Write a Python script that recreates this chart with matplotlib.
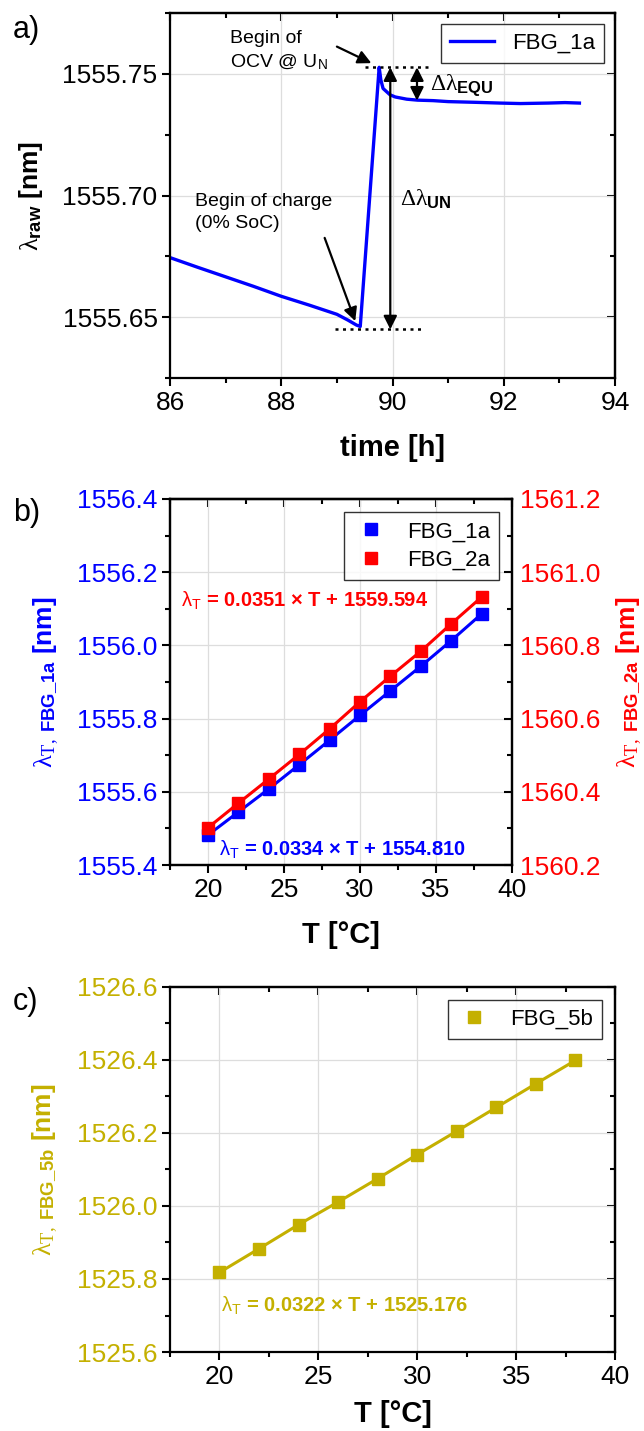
import matplotlib
matplotlib.use('Agg')
import matplotlib.pyplot as plt
from matplotlib.lines import Line2D
from matplotlib.ticker import MultipleLocator, FormatStrFormatter

plt.rcParams['font.family'] = ['Liberation Sans', 'DejaVu Sans']
plt.rcParams['mathtext.fontset'] = 'custom'
plt.rcParams['mathtext.rm'] = 'Liberation Serif'
plt.rcParams['mathtext.it'] = 'Liberation Serif'
plt.rcParams['mathtext.bf'] = 'Liberation Sans:bold'
plt.rcParams['mathtext.sf'] = 'Liberation Sans'
plt.rcParams['axes.linewidth'] = 1.6

# a) raw wavelength of FBG_1a around the charge step
time_h = [86.0, 86.5, 87.0, 87.5, 88.0, 88.5, 89.0, 89.2, 89.35, 89.42,
          89.76, 89.79, 89.83, 89.955, 90.05, 90.255, 90.45, 90.73, 91.0, 91.5,
          91.93, 92.3, 92.8, 93.1, 93.36]
lam_raw = [1555.6745, 1555.6705, 1555.6666, 1555.6627, 1555.6586, 1555.6550,
           1555.6512, 1555.6488, 1555.6468, 1555.6462,
           1555.7527, 1555.7475, 1555.7440, 1555.7414, 1555.7405, 1555.7396,
           1555.7392, 1555.7390, 1555.7386, 1555.7383,
           1555.7380, 1555.7378, 1555.7380, 1555.7382, 1555.7380]

# b) and c) temperature calibration
temp_c = [20, 22, 24, 26, 28, 30, 32, 34, 36, 38]
lam_1a = [1555.482, 1555.545, 1555.608, 1555.674, 1555.741, 1555.809,
          1555.876, 1555.943, 1556.013, 1556.086]
lam_2a = [1560.302, 1560.369, 1560.435, 1560.502, 1560.572, 1560.646,
          1560.716, 1560.784, 1560.859, 1560.932]
lam_5b = [1525.818, 1525.883, 1525.949, 1526.011, 1526.075, 1526.141,
          1526.205, 1526.270, 1526.335, 1526.399]

BLUE = '#0000FF'
RED = '#FF0000'
GOLD = '#C4B000'
TICK_FS = 19
LABEL_FS = 21
YLABEL_FS = 19
LEG_FS = 16


def style_axis(ax, xmaj, xmin, ymaj, ymin, yfmt, ycolor='black', right=True):
    ax.xaxis.set_major_locator(MultipleLocator(xmaj))
    ax.xaxis.set_minor_locator(MultipleLocator(xmin))
    ax.yaxis.set_major_locator(MultipleLocator(ymaj))
    ax.yaxis.set_minor_locator(MultipleLocator(ymin))
    ax.yaxis.set_major_formatter(FormatStrFormatter(yfmt))
    ax.tick_params(which='major', direction='out', length=6, width=1.5,
                   labelsize=TICK_FS, pad=3)
    ax.tick_params(which='minor', direction='out', length=3.5, width=1.5)
    ax.tick_params(axis='y', labelcolor=ycolor)
    ax.grid(True, which='major', color='#dddddd', linewidth=0.9)
    ax.set_axisbelow(True)
    # inward ticks on the top (and right) frame
    top = ax.secondary_xaxis('top')
    top.xaxis.set_major_locator(MultipleLocator(xmaj))
    top.xaxis.set_minor_locator(MultipleLocator(xmin))
    top.tick_params(which='major', direction='in', length=6, width=1.5, labeltop=False)
    top.tick_params(which='minor', direction='in', length=3.5, width=1.5)
    top.spines['top'].set_linewidth(1.6)
    if right:
        rt = ax.secondary_yaxis('right')
        rt.yaxis.set_major_locator(MultipleLocator(ymaj))
        rt.yaxis.set_minor_locator(MultipleLocator(ymin))
        rt.tick_params(which='major', direction='in', length=6, width=1.5, labelright=False)
        rt.tick_params(which='minor', direction='in', length=3.5, width=1.5)
        rt.spines['right'].set_linewidth(1.6)


def square_legend(ax, colors, labels):
    hs = [Line2D([], [], ls='none', marker='s', ms=9, color=c) for c in colors]
    leg = ax.legend(hs, labels, loc='upper right', fontsize=LEG_FS, frameon=True,
                    fancybox=False, edgecolor='black', handlelength=1.6,
                    borderaxespad=0.6, labelspacing=0.35)
    leg.get_frame().set_linewidth(1.0)


fig = plt.figure(figsize=(6.44, 14.31), dpi=100)
ax_a = fig.add_axes([0.264, 0.7358, 0.691, 0.2551])
ax_b = fig.add_axes([0.264, 0.3955, 0.531, 0.2558])
ax_c = fig.add_axes([0.264, 0.0552, 0.691, 0.2551])

# ---- panel a ----
ax_a.plot(time_h, lam_raw, color=BLUE, lw=2.4, label='FBG_1a')
ax_a.set_xlim(86, 94)
ax_a.set_ylim(1555.625, 1555.775)
style_axis(ax_a, 2, 1, 0.05, 0.025, '%.2f')
ax_a.set_xlabel('time [h]', fontsize=LABEL_FS, fontweight='bold', labelpad=14)
ax_a.set_ylabel(r'$\lambda_{\mathbf{raw}}$ [nm]', fontsize=YLABEL_FS, fontweight='bold')
ax_a.yaxis.set_label_coords(-0.28, 0.5)
leg_a = ax_a.legend(loc='upper right', fontsize=LEG_FS, frameon=True, fancybox=False,
                    edgecolor='black', handlelength=2.0, borderaxespad=0.5)
leg_a.get_frame().set_linewidth(1.0)

ax_a.hlines(1555.7527, 89.50, 90.64, colors='black', linestyles=(0, (1.2, 1.8)), lw=1.8)
ax_a.hlines(1555.6450, 88.96, 90.53, colors='black', linestyles=(0, (1.2, 1.8)), lw=1.8)
arr = dict(arrowstyle='<|-|>', color='black', lw=1.6, mutation_scale=20, shrinkA=0, shrinkB=0)
ax_a.annotate('', xy=(89.96, 1555.7527), xytext=(89.96, 1555.6450), arrowprops=arr)
ax_a.annotate('', xy=(90.44, 1555.7527), xytext=(90.44, 1555.7390), arrowprops=arr)
ax_a.text(90.67, 1555.7455, r'$\Delta\lambda_{\mathbf{EQU}}$', fontsize=17, va='center')
ax_a.text(90.13, 1555.6985, r'$\Delta\lambda_{\mathbf{UN}}$', fontsize=17, va='center')
one = dict(arrowstyle='-|>', color='black', lw=1.6, mutation_scale=20, shrinkA=0, shrinkB=0)
ax_a.text(87.08, 1555.7595, 'Begin of\nOCV @ U$_\\mathsf{N}$', fontsize=14,
          va='center', ha='left', linespacing=1.35)
ax_a.annotate('', xy=(89.62, 1555.7544), xytext=(89.0, 1555.7612), arrowprops=one)
ax_a.text(86.45, 1555.6930, 'Begin of charge\n(0% SoC)', fontsize=14,
          va='center', ha='left', linespacing=1.35)
ax_a.annotate('', xy=(89.33, 1555.6484), xytext=(88.78, 1555.6826), arrowprops=one)
fig.text(0.02, 0.979, 'a)', fontsize=22, va='center')

# ---- panel b ----
ax_b2 = ax_b.twinx()
ax_b.plot(temp_c, lam_1a, color=BLUE, lw=2.2, marker='s', ms=9, label='FBG_1a')
ax_b2.plot(temp_c, lam_2a, color=RED, lw=2.2, marker='s', ms=9, label='FBG_2a')
ax_b.set_xlim(17.5, 40)
ax_b.set_ylim(1555.4, 1556.4)
ax_b2.set_ylim(1560.2, 1561.2)
style_axis(ax_b, 5, 2.5, 0.2, 0.1, '%.1f', ycolor=BLUE, right=False)
ax_b2.yaxis.set_major_locator(MultipleLocator(0.2))
ax_b2.yaxis.set_minor_locator(MultipleLocator(0.1))
ax_b2.yaxis.set_major_formatter(FormatStrFormatter('%.1f'))
ax_b2.tick_params(which='major', direction='in', length=6, width=1.5,
                  labelsize=TICK_FS, labelcolor=RED, pad=6)
ax_b2.tick_params(which='minor', direction='in', length=3.5, width=1.5)
ax_b2.spines['right'].set_linewidth(1.6)
ax_b.set_xlabel('T [°C]', fontsize=LABEL_FS, fontweight='bold', labelpad=14)
ax_b.set_ylabel(r'$\lambda_{T,\ \mathbf{FBG\_1a}}$ [nm]', fontsize=YLABEL_FS,
                fontweight='bold', color=BLUE)
ax_b.yaxis.set_label_coords(-0.32, 0.5)
ax_b2.set_ylabel(r'$\lambda_{T,\ \mathbf{FBG\_2a}}$ [nm]', fontsize=YLABEL_FS,
                 fontweight='bold', color=RED, rotation=90)
ax_b2.yaxis.set_label_coords(1.30, 0.5)
square_legend(ax_b2, [BLUE, RED], ['FBG_1a', 'FBG_2a'])
ax_b.text(18.25, 1556.121, r'$\mathsf{\lambda_T}$ = 0.0351 × T + 1559.594', color=RED,
          fontsize=14.5, fontweight='bold', va='center')
ax_b.text(20.7, 1555.441, r'$\mathsf{\lambda_T}$ = 0.0334 × T + 1554.810', color=BLUE,
          fontsize=14.5, fontweight='bold', va='center')
fig.text(0.02, 0.6415, 'b)', fontsize=22, va='center')

# ---- panel c ----
ax_c.plot(temp_c, lam_5b, color=GOLD, lw=2.2, marker='s', ms=9, label='FBG_5b')
ax_c.set_xlim(17.5, 40)
ax_c.set_ylim(1525.6, 1526.6)
style_axis(ax_c, 5, 2.5, 0.2, 0.1, '%.1f', ycolor=GOLD)
ax_c.set_xlabel('T [°C]', fontsize=LABEL_FS, fontweight='bold', labelpad=8)
ax_c.set_ylabel(r'$\lambda_{T,\ \mathbf{FBG\_5b}}$ [nm]', fontsize=YLABEL_FS,
                fontweight='bold', color=GOLD)
ax_c.yaxis.set_label_coords(-0.247, 0.5)
square_legend(ax_c, [GOLD], ['FBG_5b'])
ax_c.text(20.1, 1525.727, r'$\mathsf{\lambda_T}$ = 0.0322 × T + 1525.176', color=GOLD,
          fontsize=14.5, fontweight='bold', va='center')
fig.text(0.02, 0.2998, 'c)', fontsize=22, va='center')

fig.savefig('out.png', dpi=100)
